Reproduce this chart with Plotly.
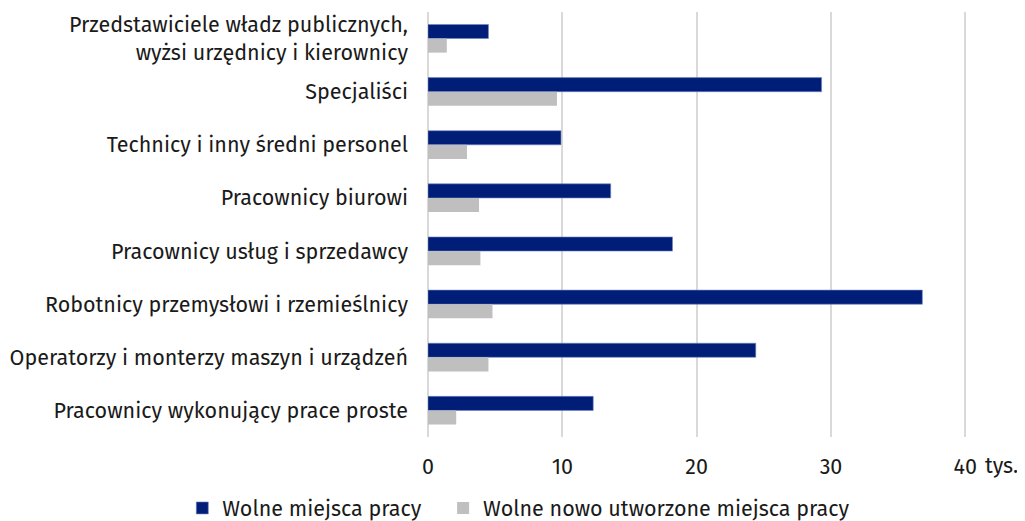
import plotly.graph_objects as go

categories = [
    "Przedstawiciele władz publicznych,<br>wyżsi urzędnicy i kierownicy",
    "Specjaliści",
    "Technicy i inny średni personel",
    "Pracownicy biurowi",
    "Pracownicy usług i sprzedawcy",
    "Robotnicy przemysłowi i rzemieślnicy",
    "Operatorzy i monterzy maszyn i urządzeń",
    "Pracownicy wykonujący prace proste",
]
wolne = [4.5, 29.3, 9.9, 13.6, 18.2, 36.8, 24.4, 12.3]
nowe = [1.4, 9.6, 2.9, 3.8, 3.9, 4.8, 4.5, 2.1]
tick_vals = [0, 10, 20, 30, 40]
tick_text = ["0", "10", "20", "30", "40"]

font_family = "Fira Sans, Noto Sans, sans-serif"
FS = 21.5

fig = go.Figure()
fig.add_trace(go.Bar(
    y=categories, x=wolne, orientation="h", name="Wolne miejsca pracy",
    marker=dict(color="#001E78", line=dict(color="#6F85C0", width=0.6)),
    legend="legend",
))
fig.add_trace(go.Bar(
    y=categories, x=nowe, orientation="h", name="Wolne nowo utworzone miejsca pracy",
    marker=dict(color="#BFBFBF", line=dict(width=0)),
    legend="legend2",
))

legend_common = dict(orientation="h", yanchor="middle", y=-0.167,
                     font=dict(size=FS), itemwidth=30, bgcolor="rgba(0,0,0,0)")

fig.update_layout(
    width=1017, height=513,
    margin=dict(l=420, r=57, t=4, b=84, autoexpand=False),
    plot_bgcolor="white", paper_bgcolor="white",
    barmode="group", bargap=0.47, bargroupgap=0.0,
    font=dict(family=font_family, size=FS, color="#1a1a1a"),
    showlegend=True,
    legend=dict(x=-0.455, xanchor="left", **legend_common),
    legend2=dict(x=0.028, xanchor="left", **legend_common),
    xaxis=dict(range=[0, 40.2], tickvals=tick_vals, ticktext=tick_text,
               showgrid=True, gridcolor="#D9D9D9", gridwidth=2,
               zeroline=True, zerolinecolor="#D9D9D9", zerolinewidth=2,
               showline=False, ticks="", ticklabelstandoff=14,
               tickfont=dict(size=FS)),
    yaxis=dict(autorange="reversed", showgrid=False, ticks="",
               ticklabelstandoff=19, tickfont=dict(size=FS)),
    annotations=[dict(x=40, y=0, xref="x", yref="paper", text="tys.",
                      xanchor="left", yanchor="top", xshift=18, yshift=-14,
                      showarrow=False, font=dict(size=FS))],
)

fig.write_html("out.html")
